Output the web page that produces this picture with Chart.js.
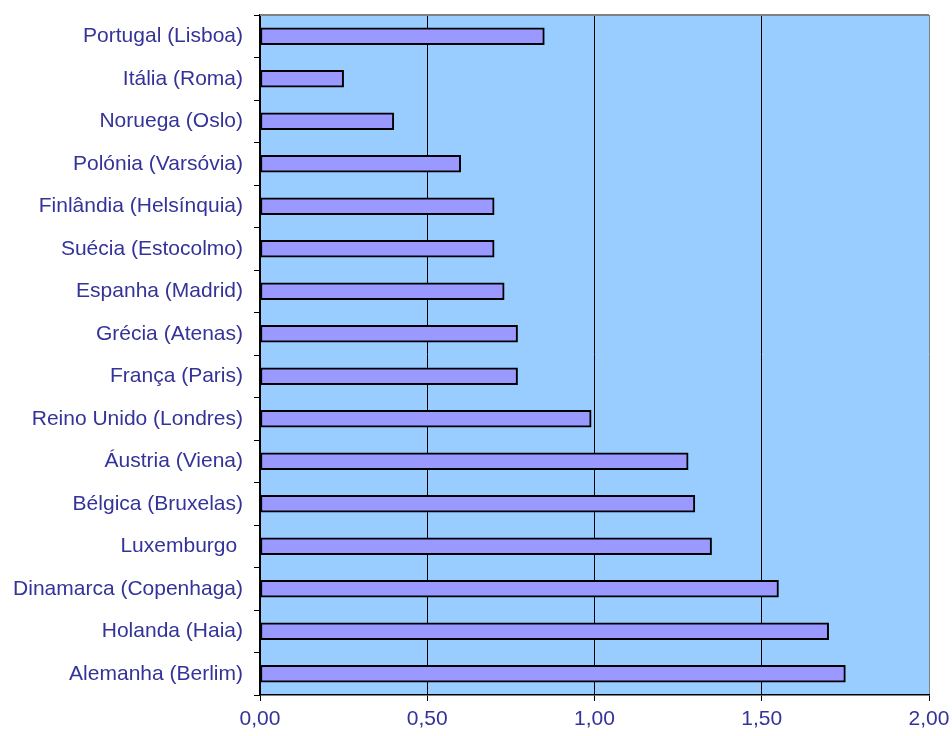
<!DOCTYPE html>
<html>
<head>
<meta charset="utf-8">
<script src="https://cdn.jsdelivr.net/npm/chart.js"></script>
<style>
    body { margin: 0; background: #fff; }
    #wrap { width: 952px; height: 736px; }
</style>
</head>
<body>
<div id="wrap"><canvas id="graph" width="952" height="736"></canvas></div>
<script>
// capitals, top to bottom
const capitais = [
    'Portugal (Lisboa)',
    'Itália (Roma)',
    'Noruega (Oslo)',
    'Polónia (Varsóvia)',
    'Finlândia (Helsínquia)',
    'Suécia (Estocolmo)',
    'Espanha (Madrid)',
    'Grécia (Atenas)',
    'França (Paris)',
    'Reino Unido (Londres)',
    'Áustria (Viena)',
    'Bélgica (Bruxelas)',
    'Luxemburgo ',
    'Dinamarca (Copenhaga)',
    'Holanda (Haia)',
    'Alemanha (Berlim)'
]

const valores = [0.85, 0.25, 0.40, 0.60, 0.70, 0.70, 0.73, 0.77, 0.77, 0.99, 1.28, 1.30, 1.35, 1.55, 1.70, 1.75]

const xMin  = 0
const xMax  = 2
const xStep = 0.5

const azul  = '#333399'
const fonte = { family: "'Liberation Sans', Arial, sans-serif", size: 21 }

// light blue plot area plus the grey top edge
const fundo = {
    id: 'fundo',
    beforeDraw(chart) {
        const { ctx, chartArea: a } = chart
        ctx.save()
        ctx.fillStyle = '#99CCFF'
        ctx.fillRect(a.left, a.top, a.right - a.left, a.bottom - a.top)
        ctx.restore()
    },
    afterDraw(chart) {
        const { ctx, chartArea: a } = chart
        ctx.save()
        ctx.strokeStyle = '#808080'
        ctx.lineWidth = 2
        ctx.beginPath()
        ctx.moveTo(a.left, a.top)
        ctx.lineTo(a.right, a.top)
        ctx.stroke()
        ctx.restore()
    }
}

new Chart(document.getElementById('graph'), {
    type: 'bar',
    data: {
        labels: capitais,
        datasets: [{
            data: valores,
            backgroundColor: '#9999FF',
            borderColor: '#000',
            borderWidth: 2,
            borderSkipped: false,
            barThickness: 17
        }]
    },
    options: {
        indexAxis: 'y',
        responsive: false,
        animation: false,
        layout: { padding: { top: 15, right: 23, left: 0, bottom: 0 } },
        plugins: {
            legend: { display: false },
            tooltip: { enabled: false }
        },
        scales: {
            x: {
                min: xMin,
                max: xMax,
                grid: {
                    color: ctx => ctx.tick && ctx.tick.value === xMax ? '#808080' : '#000',
                    tickColor: '#000',
                    lineWidth: 1,
                    tickLength: 6
                },
                border: { color: '#000', width: 1.5 },
                ticks: {
                    stepSize: xStep,
                    color: azul,
                    font: fonte,
                    padding: 6,
                    maxRotation: 0,
                    callback: v => v.toFixed(2).replace('.', ',')
                },
                afterFit: s => {
                    s.height = 41
                    s.paddingLeft = 0
                    s.paddingRight = 0
                }
            },
            y: {
                grid: {
                    offset: true,
                    drawOnChartArea: false,
                    color: '#000',
                    tickLength: 6
                },
                border: { color: '#000', width: 1.5 },
                ticks: {
                    color: azul,
                    font: fonte,
                    padding: 11
                },
                afterFit: s => {
                    s.width = 260
                    s.paddingTop = 0
                    s.paddingBottom = 0
                }
            }
        }
    },
    plugins: [fundo]
})
</script>
</body>
</html>
